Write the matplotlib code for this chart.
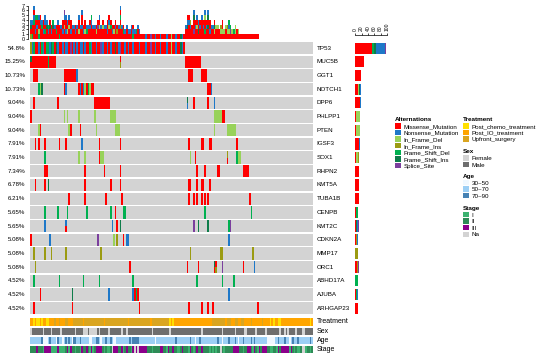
import numpy as np
import matplotlib
matplotlib.use("Agg")
import matplotlib.pyplot as plt
from matplotlib.patches import Patch

plt.rcParams['font.family'] = ['Liberation Sans', 'DejaVu Sans']

n_samples = 177

genes = ["TP53", "MUC5B", "GGT1", "NOTCH1", "DPP6", "PHLPP1", "PTEN", "IGSF3", "SOX1", "RHPN2",
         "KMT5A", "TUBA1B", "CENPB", "KMT2C", "CDKN2A", "MMP17", "ORC1", "ABHD17A", "AJUBA", "ARHGAP23"]
pct_labels = ["54.8%", "15.25%", "10.73%", "10.73%", "9.04%", "9.04%", "9.04%", "7.91%", "7.91%", "7.34%",
              "6.78%", "6.21%", "5.65%", "5.65%", "5.08%", "5.08%", "5.08%", "4.52%", "4.52%", "4.52%"]

# alteration codes
alt_codes = ["M", "N", "D", "I", "F", "G", "S"]
alt_names = ["Missense_Mutation", "Nonsense_Mutation", "In_Frame_Del", "In_Frame_Ins",
             "Frame_Shift_Del", "Frame_Shift_Ins", "Splice_Site"]
alt_colors = {"M": "#FF0000", "N": "#1E78C8", "D": "#98D25A", "I": "#9B9B12",
              "F": "#00B050", "G": "#0E7C4A", "S": "#7B3F9E"}
bar_order = ["M", "D", "I", "F", "G", "N", "S"]

# TP53 alteration of samples 0..96
tp53_types = ("INFMMNMFNM" "FFNGFMGNMM" "NMNNMSMNMN" "MNNMNMMFNM" "MNMMSNMMNM"
              "NMMGMNSMMN" "MNMMNMMMNM" "MMNMMSMMNM" "MNMMMNMMDM" "MNMMGNM")

mutations = {
    "TP53": list(enumerate(tp53_types)),
    "MUC5B": [(0, "GM"), (1, "M"), (2, "M"), (3, "M"), (4, "M"), (5, "M"), (6, "M"), (7, "M"), (8, "M"),
              (9, "M"), (10, "M"), (11, "F"), (12, "M"), (13, "M"), (14, "M"), (15, "M"), (56, "MI"),
              (97, "M"), (98, "M"), (99, "M"), (100, "M"), (101, "M"), (102, "M"), (103, "M"),
              (104, "M"), (105, "M"), (106, "M")],
    "GGT1": [(2, "M"), (3, "M"), (4, "M"), (21, "M"), (22, "M"), (23, "M"), (24, "M"), (25, "M"),
             (26, "M"), (27, "M"), (28, "M"), (29, "N"), (99, "M"), (100, "M"), (101, "M"),
             (107, "M"), (108, "M"), (109, "M"), (110, "M")],
    "NOTCH1": [(5, "F"), (6, "D"), (7, "G"), (21, "M"), (22, "N"), (30, "M"), (31, "N"), (32, "M"),
               (33, "N"), (34, "D"), (35, "M"), (36, "F"), (37, "D"), (38, "M"), (39, "M"),
               (111, "M"), (112, "M"), (113, "N")],
    "DPP6": [(2, "M"), (17, "M"), (40, "M"), (41, "M"), (42, "M"), (43, "M"), (44, "M"), (45, "M"),
             (46, "M"), (47, "M"), (48, "M"), (49, "M"), (98, "GN"), (102, "M"), (111, "M"), (115, "N")],
    "PHLPP1": [(0, "M"), (21, "D"), (23, "D"), (30, "D"), (40, "D"), (50, "D"), (51, "D"), (52, "D"),
               (53, "D"), (115, "D"), (116, "D"), (117, "D"), (118, "D"), (119, "D"), (120, "M"), (121, "M")],
    "PTEN": [(5, "D"), (6, "M"), (24, "D"), (25, "M"), (31, "M"), (41, "D"), (53, "D"), (54, "D"),
             (55, "D"), (115, "D"), (123, "D"), (124, "D"), (125, "D"), (126, "D"), (127, "D"), (128, "D")],
    "IGSF3": [(3, "M"), (5, "M"), (9, "M"), (18, "M"), (22, "M"), (32, "N"), (43, "M"), (56, "M"),
              (99, "M"), (107, "M"), (108, "M"), (112, "M"), (113, "M"), (129, "M")],
    "SOX1": [(9, "F"), (30, "D"), (34, "D"), (43, "M"), (44, "D"), (45, "D"), (100, "D"), (103, "M"),
             (123, "IM"), (129, "F"), (130, "D"), (131, "D")],
    "RHPN2": [(9, "M"), (10, "M"), (34, "M"), (46, "M"), (56, "M"), (104, "M"), (109, "M"), (117, "M"),
              (118, "M"), (133, "M"), (134, "M"), (135, "M"), (136, "M")],
    "KMT5A": [(3, "M"), (9, "M"), (11, "G"), (34, "M"), (50, "M"), (56, "M"), (99, "M"), (100, "M"),
              (104, "M"), (107, "M"), (108, "M"), (112, "M")],
    "TUBA1B": [(24, "M"), (34, "M"), (47, "M"), (57, "M"), (99, "M"), (102, "M"), (104, "M"),
               (107, "M"), (109, "M"), (111, "M"), (137, "M")],
    "CENPB": [(9, "F"), (17, "F"), (23, "F"), (35, "F"), (50, "F"), (53, "M"), (58, "F"), (59, "F"),
              (109, "F"), (138, "F")],
    "KMT2C": [(9, "N"), (22, "NM"), (51, "N"), (54, "M"), (56, "G"), (102, "S"), (105, "G"), (111, "G"),
              (124, "F"), (125, "S")],
    "CDKN2A": [(0, "M"), (12, "N"), (42, "S"), (52, "D"), (54, "I"), (58, "M"), (60, "N"), (61, "N"),
               (124, "N")],
    "MMP17": [(2, "I"), (9, "I"), (13, "I"), (22, "I"), (44, "I"), (100, "I"), (119, "I"), (120, "I"),
              (139, "I")],
    "ORC1": [(3, "I"), (62, "M"), (98, "M"), (105, "M"), (115, "GM"), (116, "MI"), (120, "S"),
             (133, "M"), (140, "N")],
    "ABHD17A": [(2, "F"), (18, "F"), (33, "F"), (43, "F"), (64, "F"), (104, "F"), (120, "F"), (127, "F")],
    "AJUBA": [(6, "M"), (26, "G"), (49, "N"), (64, "N"), (65, "M"), (66, "F"), (67, "M"), (124, "N")],
    "ARHGAP23": [(2, "M"), (26, "M"), (68, "M"), (99, "M"), (107, "M"), (111, "M"), (114, "M"), (142, "M")],
}

# mutation burden per sample (stack, bottom to top), samples 0..68 and 97..142
burden_a = ["IMGN", "FMMN", "MMMFNMN", "MNMMF", "MMNMF", "FDMMN", "MMMNM", "MMFN", "MNMM", "MFMNN",
            "MMGN", "MNF", "MMGM", "MNM", "MMGF", "MMN", "MFM", "MMMN", "FMM", "MMN",
            "MNMM", "MMDMNS", "MNMMN", "MDMN", "MMDMN", "MNMM", "MMN", "MMN", "MNM", "MMN",
            "MDMMN", "MMN", "MMNMMN", "MNM", "MDMM", "MFN", "MMN", "MMNM", "MMMNF", "MMN",
            "MMN", "MDM", "MMSM", "MMDMN", "MMN", "MMDM", "MMN", "MMN", "MNMM", "MMDNM",
            "MMFM", "MNM", "MDM", "MMNM", "MIM", "MMN", "MMIMFMN", "MMN", "MFM", "MN",
            "MMN", "MN", "MN", "MMN", "FNM", "MN", "MF", "MMN", "MN"]
burden_b = ["MMN", "MMGNM", "MMMNM", "MMNI", "MMM", "MSMMGN", "MMNM", "MMDMN", "MGMN", "MMNM",
            "MMMMN", "MMNM", "MFMMDN", "MMNM", "MMGMGN", "MNMM", "MMN", "MMN", "MDGM", "MMD",
            "MMD", "MM", "MDI", "MDMM", "MD", "MMD", "MDI", "MDNF", "MSF", "MD",
            "MF", "MDD", "MM", "MD", "M", "M", "M", "M", "M", "M", "M", "M", "M", "M", "M", "M"]
burden = burden_a + [tp53_types[i] for i in range(69, 97)] + burden_b

treatment = ("IICICCICII" "CCIIIUIIUI" "IIUUIIIUUU" "UUUIUUUUUU" "UUUUUUIUUU"
             "UUUUUUUUUU" "UIUUUUUUUU" "UUUUUIUUUU" "UUUUUUUCIC" "IIIIIIIIII"
             "IIIIIIIIII" "IIIIUUUUUU" "UUIUUUIIUU" "IIUUIIIIUI" "IIIIIUIIII"
             "CICIICCIII" "IIIIIIIIII" "IIIIICI")
sex = ("FMMMMMMMFM" "MMMFMMMMMF" "MMMMMMMMFM" "MMMFFFMFFF" "FFMFMMMMMF"
       "MMMMMMMFMM" "FMMMMMMMMM" "MMMMMMFMMM" "MMMMMMMFMM" "MMMMMMMMMM"
       "MMMMMMMFMM" "MMMMMMMMMM" "FMMMMMMMFM" "MMMMFFMMMM" "MFMMMMMFMM"
       "MMMMMMFMMF" "MFMMMMFMMM" "FFMMMMM")
age = ("LLLLLLLSYY" "YLSLLLYSLL" "YLSLSLYSSL" "LSLLLLLYYL" "LSSLYLLSLL"
       "SLYYLLLLLL" "LLSLSSSSLL" "LLLLLLLLYL" "LLLLLLLLLL" "LSLLLLLLLL"
       "SLLYLLSLLL" "LLLLLLLSLL" "YLLLSLLLSL" "YLLSLLLLSL" "SLLLLLLLYY"
       "YYYLLSLLLS" "LLYLSLLSLL" "LLLLLSL")
stage = ("2222322213" "3331111311" "1123132212" "2132232131" "2333321211"
         "2N33322312" "32213N3N33" "3332221222" "2332213223" "2211232221"
         "3212322322" "221212122N" "2122222333" "3221223321" "3213233322"
         "1122132333" "3313212112" "NN12212")

treat_names = ["Post_chemo_treatment", "Post_IO_treatment", "Upfront_surgery"]
treat_colors = {"C": "#FFE000", "I": "#FFA500", "U": "#DAA520"}
sex_names = ["Female", "Male"]
sex_colors = {"F": "#D3D3D3", "M": "#6E6E6E"}
age_names = ["30~50", "50~70", "70~90"]
age_colors = {"Y": "#F0F8FF", "L": "#9CCFF5", "S": "#4682B4"}
stage_names = ["I", "II", "III", "Na"]
stage_colors = {"1": "#3CB371", "2": "#2E8B57", "3": "#8B008B", "N": "#D3D3D3"}

W, H = 539, 359
fig = plt.figure(figsize=(W / 100, H / 100), dpi=100)


def ax_px(x0, y0, x1, y1):
    return fig.add_axes([x0 / W, 1 - y1 / H, (x1 - x0) / W, (y1 - y0) / H])


# ---- main oncoprint matrix
ax = ax_px(30, 41.3, 313, 315)
ax.set_xlim(0, n_samples)
ax.set_ylim(len(genes), 0)
ax.axis("off")
for k, g in enumerate(genes):
    ax.barh(k + 0.5, n_samples, left=0, height=0.9, color="#D3D3D3", linewidth=0)
    for idx, code in mutations[g]:
        if len(code) == 1:
            ax.bar(idx + 0.5, 0.9, bottom=k + 0.05, width=1, color=alt_colors[code], linewidth=0)
        else:
            ax.bar(idx + 0.5, 0.45, bottom=k + 0.05, width=1, color=alt_colors[code[0]], linewidth=0)
            ax.bar(idx + 0.5, 0.45, bottom=k + 0.5, width=1, color=alt_colors[code[1]], linewidth=0)
    ax.text(-3, k + 0.5, pct_labels[k], ha="right", va="center", fontsize=4.4)
    ax.text(n_samples + 2.3, k + 0.5, g, ha="left", va="center", fontsize=4.5)

# ---- top barplot
axt = ax_px(30, 5.7, 313, 38.7)
axt.set_xlim(0, n_samples)
axt.set_ylim(0, 7)
for i, stack in enumerate(burden):
    for j, code in enumerate(stack):
        axt.bar(i + 0.5, 1, bottom=j, width=1, color=alt_colors[code], linewidth=0)
for s in ["top", "right", "bottom"]:
    axt.spines[s].set_visible(False)
axt.spines["left"].set_position(("outward", 1.5))
axt.spines["left"].set_linewidth(0.5)
axt.set_xticks([])
axt.set_yticks(range(8))
axt.tick_params(axis="y", labelsize=4, length=1.5, width=0.5, pad=0.8)

# ---- right barplot
axr = ax_px(355.3, 41.3, 387, 315)
axr.set_xlim(0, 100)
axr.set_ylim(len(genes), 0)
for k, g in enumerate(genes):
    codes = "".join(c for _, c in mutations[g])
    left = 0
    for c in bar_order:
        cnt = codes.count(c)
        if cnt:
            axr.barh(k + 0.5, cnt, left=left, height=0.82, color=alt_colors[c], linewidth=0)
            left += cnt
for s in ["bottom", "right", "left"]:
    axr.spines[s].set_visible(False)
axr.spines["top"].set_position(("outward", 4.8))
axr.spines["top"].set_linewidth(0.5)
axr.set_yticks([])
axr.xaxis.tick_top()
axr.set_xticks([0, 20, 40, 60, 80, 100])
axr.tick_params(axis="x", labelsize=3.6, length=1.5, width=0.5, pad=0.8, labelrotation=90)

# ---- annotation tracks
tracks = [("Treatment", treatment, treat_colors, 317.5, 325.7),
          ("Sex", sex, sex_colors, 327.7, 335),
          ("Age", age, age_colors, 336.7, 344),
          ("Stage", stage, stage_colors, 345.7, 353.3)]
for name, values, cmap, y0, y1 in tracks:
    axa = ax_px(30, y0, 313, y1)
    axa.set_xlim(0, n_samples)
    axa.set_ylim(0, 1)
    axa.bar(np.arange(n_samples) + 0.5, 1, width=1, color=[cmap[v] for v in values], linewidth=0)
    axa.axis("off")
    axa.text(n_samples + 2.3, 0.5, name, ha="left", va="center", fontsize=5)


# ---- legends
def add_legend(title, labels, colors, x, y):
    handles = [Patch(facecolor=c, edgecolor="none", label=l) for l, c in zip(labels, colors)]
    leg = fig.legend(handles=handles, loc="upper left", bbox_to_anchor=(x / W, 1 - y / H),
                     frameon=False, title=title, fontsize=4.5, title_fontsize=4.6,
                     handlelength=0.95, handleheight=0.95, handletextpad=0.45,
                     labelspacing=0.12, borderpad=0, borderaxespad=0, alignment="left")
    leg.get_title().set_fontweight("bold")


add_legend("Alternations", alt_names, [alt_colors[c] for c in alt_codes], 395, 117.5)
add_legend("Treatment", treat_names, [treat_colors[c] for c in "CIU"], 463, 117.5)
add_legend("Sex", sex_names, [sex_colors[c] for c in "FM"], 463, 149.5)
add_legend("Age", age_names, [age_colors[c] for c in "YLS"], 463, 174)
add_legend("Stage", stage_names, [stage_colors[c] for c in "123N"], 463, 206)

fig.savefig("out.png", dpi=100)
